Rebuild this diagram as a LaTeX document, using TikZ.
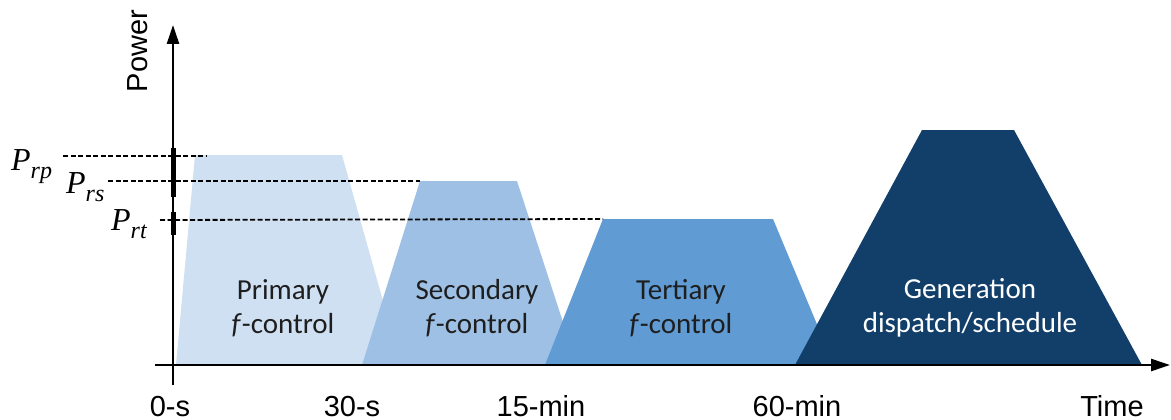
\documentclass[tikz,border=0pt]{standalone}
\usepackage{fontspec}
\setmainfont{Carlito}
\newfontfamily\axisfont{Liberation Sans}
\newfontfamily\symfont{Liberation Serif}
\usetikzlibrary{arrows.meta,positioning}
\definecolor{primblue}{RGB}{207,224,242}
\definecolor{secblue}{RGB}{157,192,228}
\definecolor{terblue}{RGB}{96,155,211}
\definecolor{genblue}{RGB}{18,63,106}
\definecolor{darktext}{RGB}{30,30,30}
\newcommand{\reslabel}[1]{{\symfont\itshape P\raisebox{-8pt}{\fontsize{24}{24}\selectfont #1}}}

\begin{document}
\begin{tikzpicture}[x=1pt,y=-1pt,
  bandtext/.style={align=center,font=\fontsize{29}{34}\selectfont,text=darktext},
  ticktext/.style={font=\axisfont\fontsize{29}{29}\selectfont,anchor=base,inner sep=1pt},
  reserve/.style={dash pattern=on 5pt off 2.5pt,line width=1.8pt},
  axis/.style={line width=2.5pt,-{Triangle[length=19pt,width=12pt]}}]
\useasboundingbox (0,0) rectangle (1171,420);

% control bands
\fill[primblue] (176,365) -- (195,155) coordinate (ptop) -- (342,155) -- (401,365) -- cycle;
\fill[secblue] (362,365) -- (420,181) coordinate (stop) -- (517,181) -- (577,365) -- cycle;
\fill[terblue] (545,365) -- (603,219) coordinate (ttop) -- (773,219) -- (834,365) -- cycle;
\fill[genblue] (795,365) -- (922,130) -- (1014,130) -- (1142,365) -- cycle;

\node[bandtext] (primary) at (283,308) {Primary\\\textit{f}-control};
\node[bandtext] (secondary) at (477,308) {Secondary\\\textit{f}-control};
\node[bandtext] (tertiary) at (681,308) {Tertiary\\\textit{f}-control};
\node[bandtext,text=white] (generation) at (970,308) {Generation\\dispatch/schedule};

% axes
\coordinate (ybot) at (173,385);
\coordinate (ytop) at (173,25);
\coordinate (xleft) at (155,365);
\coordinate (xright) at (1170,365);
\draw[axis] (ybot) -- (ytop);
\draw[axis] (xleft) -- (xright);
\draw[line width=5pt] (173,148) -- (173,197);
\draw[line width=5pt] (173,212) -- (173,235);

\node[ticktext,rotate=90] (power) at (147,51) {Power};
\node[ticktext] (t0) at (170,416) {0-s};
\node[ticktext] (t30s) at (352,416) {30-s};
\node[ticktext] (t15m) at (541,416) {15-min};
\node[ticktext] (t60m) at (797,416) {60-min};
\node[ticktext] (time) at (1112,416) {Time};

% reserve levels
\node[anchor=base west,inner sep=0pt,font=\fontsize{32}{32}\selectfont] (prp) at (11,170) {\reslabel{rp}};
\node[anchor=base west,inner sep=0pt,font=\fontsize{32}{32}\selectfont] (prs) at (66,193) {\reslabel{rs}};
\node[anchor=base west,inner sep=0pt,font=\fontsize{32}{32}\selectfont] (prt) at (111,230) {\reslabel{rt}};
\coordinate (rpa) at (63,156);
\coordinate (rpb) at (207,156);
\coordinate (rsa) at (108,181);
\coordinate (rta) at (160,220);
\draw[reserve] (rpa) -- (rpb);
\draw[reserve] (rsa) -- (stop);
\draw[reserve] (rta) -- (ttop);
\end{tikzpicture}
\end{document}
